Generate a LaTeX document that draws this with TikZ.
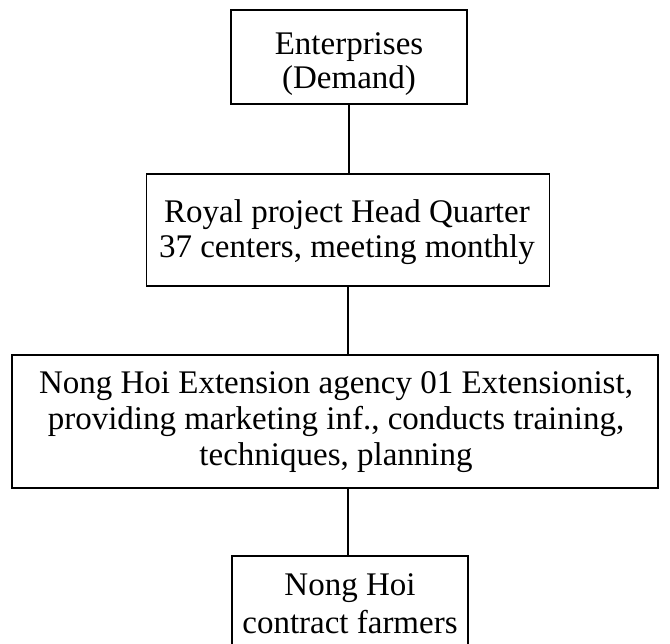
\documentclass[tikz,border=0pt]{standalone}
\usepackage{fontspec}
\setmainfont{Liberation Serif}
\begin{document}
\begin{tikzpicture}[x=1pt,y=-1pt,
  box/.style={draw=black, line width=1.3pt, fill=white, inner sep=0pt},
  txt/.style={align=center, inner sep=0pt},
  conn/.style={draw=black, line width=1.3pt}]
\useasboundingbox (0,0) rectangle (670,644);
\fill[white] (0,0) rectangle (670,644);
\node[box, minimum width=236pt, minimum height=94pt] (b1) at (349,57) {};
\node[txt, font=\fontsize{33}{34}\selectfont] (t1) at (349,64) {Enterprises\\(Demand)};
\node[box, minimum width=403pt, minimum height=112pt] (b2) at (348,230) {};
\node[txt, font=\fontsize{33}{35}\selectfont] (t2) at (347,232) {Royal project Head Quarter\\37 centers, meeting monthly};
\node[box, minimum width=646pt, minimum height=133pt] (b3) at (335,421.5) {};
\node[txt, font=\fontsize{33}{36}\selectfont] (t3) at (336,422) {Nong Hoi Extension agency 01 Extensionist,\\providing marketing inf., conducts training,\\techniques, planning};
\node[box, minimum width=236pt, minimum height=100pt] (b4) at (350,606) {};
\node[txt, font=\fontsize{33}{38}\selectfont] (t4) at (350,604) {Nong Hoi\\contract farmers};
\draw[conn] (b1.south) -- (b1.south |- b2.north);
\draw[conn] (b2.south) -- (b2.south |- b3.north);
\draw[conn] (b2.south |- b3.south) -- (b2.south |- b4.north);
\end{tikzpicture}
\end{document}
